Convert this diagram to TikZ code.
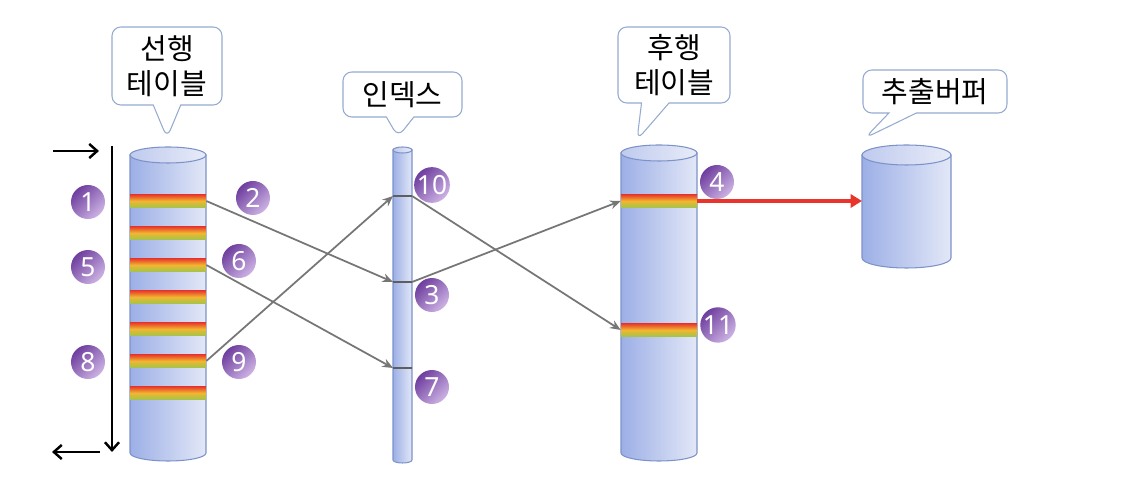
\documentclass[tikz,border=0pt]{standalone}
\usepackage{fontspec}
\setsansfont{Noto Sans}
\newfontfamily\krfont{Noto Sans CJK KR}
\usepackage{tikz}
\usetikzlibrary{positioning}
\usetikzlibrary{shapes.callouts, arrows.meta}
\definecolor{cylleft}{HTML}{9CAFE6}
\definecolor{cylright}{HTML}{E3E8F7}
\definecolor{capleft}{HTML}{BFCAEE}
\definecolor{capright}{HTML}{E8ECF8}
\definecolor{cylline}{HTML}{7C92C8}
\definecolor{bandred}{HTML}{E8392B}
\definecolor{bandyellow}{HTML}{F2B630}
\definecolor{bandgreen}{HTML}{A2C449}
\definecolor{numdark}{HTML}{6E3E9E}
\definecolor{numlight}{HTML}{CDB3E4}
\definecolor{tagline}{HTML}{95ABD0}
\definecolor{linkgray}{HTML}{767676}
\definecolor{hitred}{HTML}{E8342A}

\begin{document}
\begin{tikzpicture}[x=0.02cm,y=-0.02cm,
  cylbody/.style={left color=cylleft, right color=cylright, draw=cylline, line width=0.6pt},
  cyltop/.style={left color=capleft, right color=capright, draw=cylline, line width=0.6pt},
  band/.style={rectangle, inner sep=0pt, minimum width=1.52cm, minimum height=0.26cm, top color=bandred, bottom color=bandgreen, middle color=bandyellow},
  num/.style={circle, inner sep=0pt, minimum size=0.68cm, top color=numdark, bottom color=numlight, shading angle=45, text=white, font=\sffamily\bfseries\fontsize{15}{15}\selectfont},
  tag/.style={rectangle callout, rounded corners=5pt, draw=tagline, fill=white, line width=0.6pt, align=center, inner sep=0pt, callout pointer width=0.55cm, font=\krfont\fontsize{16.5}{20}\selectfont},
  link/.style={draw=linkgray, line width=1pt, -{Stealth[length=6pt,width=5pt]}},
  ixmark/.style={draw=linkgray!80!black, line width=1pt},
  scan/.style={line width=1.4pt, -{Straight Barb[length=4.5pt,width=8pt]}},
  hit/.style={draw=hitred, line width=2pt, -{Triangle[length=6.5pt,width=7.5pt]}}]
\useasboundingbox (0,0) rectangle (1122,502);

\shade[cylbody] (130,155) -- (130,453) arc[start angle=180, end angle=360, x radius=0.76cm, y radius=0.16cm] -- (206,155) -- cycle;
\shade[cyltop] (168,155) ellipse [x radius=0.76cm, y radius=0.16cm];
\foreach \i in {1,...,7}
  \node[band] (lb\i) at (168,{169+32*\i}) {};

\shade[cylbody] (393,150) -- (393,460) arc[start angle=180, end angle=360, x radius=0.19cm, y radius=0.06cm] -- (412,150) -- cycle;
\shade[cyltop] (402.5,150) ellipse [x radius=0.19cm, y radius=0.06cm];

\shade[cylbody] (621,153) -- (621,453) arc[start angle=180, end angle=360, x radius=0.76cm, y radius=0.16cm] -- (697,153) -- cycle;
\shade[cyltop] (659,153) ellipse [x radius=0.76cm, y radius=0.16cm];
\node[band] (rb1) at (659,201) {};
\node[band] (rb2) at (659,330) {};

\shade[cylbody] (862,155) -- (862,258) arc[start angle=180, end angle=360, x radius=0.89cm, y radius=0.2cm] -- (951,155) -- cycle;
\shade[cyltop] (906.5,155) ellipse [x radius=0.89cm, y radius=0.2cm];

\coordinate (ix1w) at (393,196);
\coordinate (ix1e) at (412,196);
\coordinate (ix2w) at (393,282);
\coordinate (ix2e) at (412,282);
\coordinate (ix3w) at (393,368);
\coordinate (ix3e) at (412,368);
\draw[ixmark] (ix1w) -- (ix1e);
\draw[ixmark] (ix2w) -- (ix2e);
\draw[ixmark] (ix3w) -- (ix3e);

\draw[link] (lb1.east) -- (ix2w);
\draw[link] (ix2e) -- (rb1.west);
\draw[link] (lb3.east) -- (ix3w);
\draw[link] (lb6.east) -- (ix1w);
\draw[link] (ix1e) -- (rb2.west);

\coordinate (bufw) at (862,201);
\draw[hit] (rb1.east) -- (bufw);

\coordinate (inS) at (53,151);
\coordinate (inE) at (99,151);
\coordinate (scanS) at (112,146);
\coordinate (scanE) at (112,452);
\coordinate (outS) at (100,452);
\coordinate (outE) at (52,452);
\draw[scan] (inS) -- (inE);
\draw[scan] (scanS) -- (scanE);
\draw[scan] (outS) -- (outE);

\node[num] (n1) at (88,202) {1};
\node[num] (n2) at (253,198) {2};
\node[num] (n5) at (88,267) {5};
\node[num] (n6) at (239,261) {6};
\node[num] (n8) at (88,362) {8};
\node[num] (n9) at (239,362) {9};
\node[num] (n10) at (432,185) {10};
\node[num] (n3) at (432,295) {3};
\node[num] (n7) at (432,387) {7};
\node[num] (n4) at (717,182) {4};
\node[num] (n11) at (718,325) {11};

\node[tag, minimum width=2.2cm, minimum height=1.56cm, callout absolute pointer={(167,138)}] (tlead) at (167,66) {선행\\테이블};
\node[tag, minimum width=2.38cm, minimum height=0.9cm, callout absolute pointer={(398,137)}] (tidx) at (402.5,94.5) {인덱스};
\node[tag, minimum width=2.24cm, minimum height=1.52cm, callout absolute pointer={(637,140)}] (tfollow) at (674,65) {후행\\테이블};
\node[tag, minimum width=2.88cm, minimum height=0.86cm, callout absolute pointer={(865,138)}] (tbuf) at (935,91.5) {추출버퍼};

\end{tikzpicture}
\end{document}
